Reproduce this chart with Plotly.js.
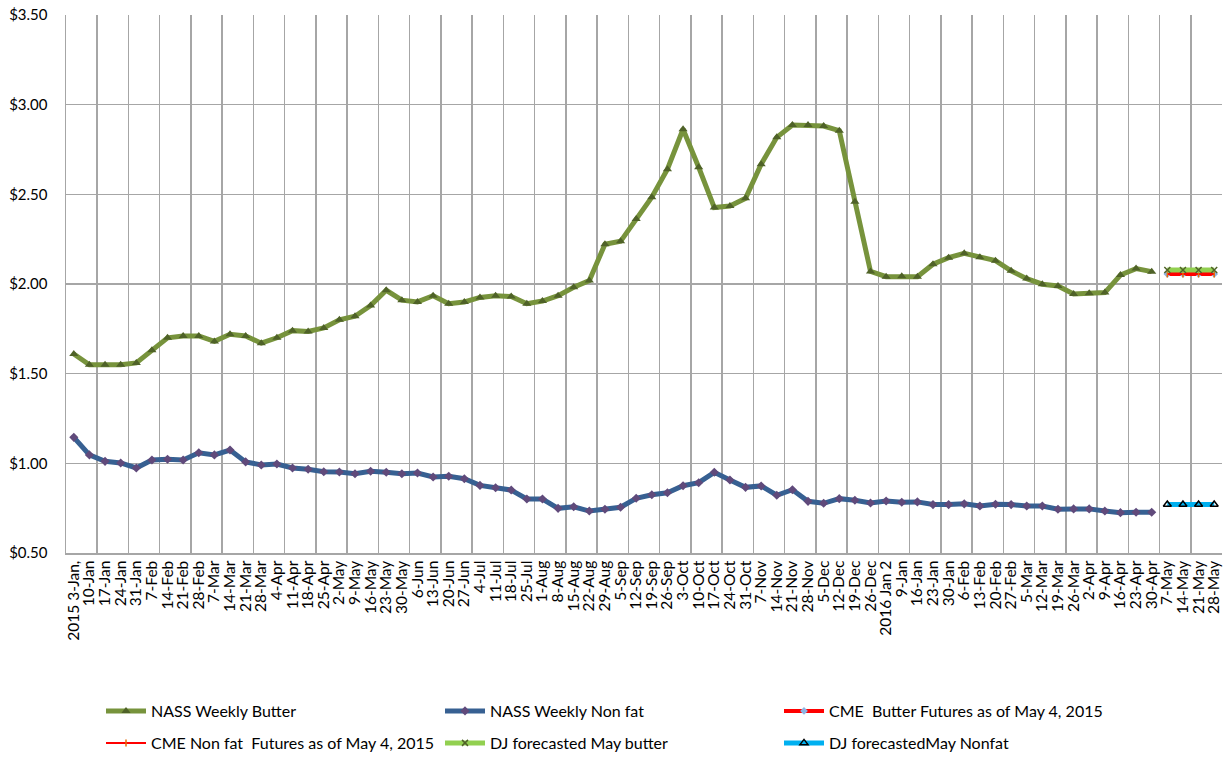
<!DOCTYPE html>
<html>
<head>
<meta charset="utf-8">
<script src="https://cdn.plot.ly/plotly-3.0.1.min.js"></script>
<style>html,body{margin:0;padding:0;background:#fff;}#chart{width:1225px;height:760px;}</style>
</head>
<body>
<div id="chart"></div>
<script>
const categories = ["2015 3-Jan,","10-Jan","17-Jan","24-Jan","31-Jan","7-Feb","14-Feb","21-Feb","28-Feb","7-Mar","14-Mar","21-Mar","28-Mar","4-Apr","11-Apr","18-Apr","25-Apr","2-May","9-May","16-May","23-May","30-May","6-Jun","13-Jun","20-Jun","27-Jun","4-Jul","11-Jul","18-Jul","25-Jul","1-Aug","8-Aug","15-Aug","22-Aug","29-Aug","5-Sep","12-Sep","19-Sep","26-Sep","3-Oct","10-Oct","17-Oct","24-Oct","31-Oct","7-Nov","14-Nov","21-Nov","28-Nov","5-Dec","12-Dec","19-Dec","26-Dec","2016 Jan 2","9-Jan","16-Jan","23-Jan","30-Jan","6-Feb","13-Feb","20-Feb","27-Feb","5-Mar","12-Mar","19-Mar","26-Mar","2-Apr","9-Apr","16-Apr","23-Apr","30-Apr","7-May","14-May","21-May","28-May"];

const nassButter = [1.61,1.55,1.55,1.55,1.56,1.63,1.70,1.71,1.71,1.68,1.72,1.71,1.67,1.70,1.74,1.735,1.755,1.80,1.82,1.88,1.965,1.91,1.90,1.935,1.89,1.90,1.925,1.935,1.93,1.89,1.905,1.935,1.982,2.019,2.222,2.238,2.363,2.484,2.640,2.863,2.651,2.426,2.435,2.478,2.668,2.818,2.887,2.887,2.881,2.855,2.459,2.07,2.041,2.043,2.041,2.11,2.147,2.171,2.149,2.130,2.074,2.030,1.999,1.989,1.944,1.948,1.952,2.05,2.086,2.069,null,null,null,null];

const nassNonfat = [1.145,1.047,1.011,1.002,0.974,1.019,1.023,1.019,1.059,1.047,1.074,1.008,0.991,0.996,0.974,0.967,0.953,0.952,0.942,0.956,0.950,0.942,0.946,0.924,0.928,0.914,0.877,0.864,0.851,0.801,0.801,0.749,0.758,0.734,0.744,0.755,0.805,0.825,0.836,0.875,0.892,0.950,0.907,0.866,0.874,0.822,0.853,0.788,0.777,0.803,0.794,0.779,0.790,0.783,0.785,0.770,0.770,0.774,0.762,0.772,0.770,0.762,0.762,0.744,0.746,0.746,0.734,0.725,0.727,0.727,null,null,null,null];

const forecastIdx = [70,71,72,73];
const cmeButter = [2.056,2.056,2.056,2.056];
const cmeNonfat = [2.056,2.056,2.056,2.056];
const djButter = [2.078,2.078,2.078,2.078];
const djNonfat = [0.77,0.77,0.77,0.77];

const yTicks = [0.5,1.0,1.5,2.0,2.5,3.0,3.5];

const idx = categories.map((c,i)=>i);
const fx = forecastIdx;
const boundaries = [];
for (let b = -0.5; b <= categories.length - 0.5; b += 2) boundaries.push(b);

const traces = [
  {x: idx, y: nassButter, name: 'NASS Weekly Butter', mode: 'lines+markers', legend: 'legend',
   line: {color: '#77933C', width: 5}, marker: {symbol: 'triangle-up', size: 8, color: '#4F6228'}},
  {x: idx, y: nassNonfat, name: 'NASS Weekly Non fat', mode: 'lines+markers', legend: 'legend',
   line: {color: '#376092', width: 5}, marker: {symbol: 'diamond', size: 7, color: '#604A7B'}},
  {x: fx, y: cmeButter, name: 'CME  Butter Futures as of May 4, 2015', mode: 'lines+markers', legend: 'legend',
   line: {color: '#FF0000', width: 4}, marker: {symbol: 'diamond', size: 6, color: '#8EB4E3'}},
  {x: fx, y: cmeNonfat, name: 'CME Non fat  Futures as of May 4, 2015', mode: 'lines+markers', legend: 'legend2',
   line: {color: '#FF0000', width: 2}, marker: {symbol: 'line-ns-open', size: 5, color: '#E46C0A', line: {width: 1.5, color: '#E46C0A'}}},
  {x: fx, y: djButter, name: 'DJ forecasted May butter', mode: 'lines+markers', legend: 'legend2',
   line: {color: '#92D050', width: 5}, marker: {symbol: 'x-thin-open', size: 6, color: '#4F6228', line: {width: 1.5, color: '#4F6228'}}},
  {x: fx, y: djNonfat, name: 'DJ forecastedMay Nonfat', mode: 'lines+markers', legend: 'legend2',
   line: {color: '#00B0F0', width: 5}, marker: {symbol: 'triangle-up-open', size: 7, color: '#000000', line: {width: 1.5, color: '#000000'}}}
];

const legendCommon = {orientation: 'h', xref: 'container', yref: 'container',
  xanchor: 'left', yanchor: 'middle', entrywidth: 284, entrywidthmode: 'pixels',
  font: {size: 16, family: 'Lato, "Open Sans", sans-serif', color: '#000000'}, itemwidth: 40,
  bgcolor: 'rgba(0,0,0,0)'};

const layout = {
  width: 1225, height: 760,
  margin: {l: 66, r: 3, t: 15, b: 207},
  paper_bgcolor: '#ffffff', plot_bgcolor: '#ffffff',
  font: {family: 'Lato, "Open Sans", sans-serif', color: '#000000', size: 13},
  showlegend: true,
  legend: Object.assign({}, legendCommon, {x: 101/1225, y: (760-711)/760}),
  legend2: Object.assign({}, legendCommon, {x: 101/1225, y: (760-743)/760}),
  xaxis: {
    range: [-0.5, categories.length - 0.5],
    tickmode: 'array', tickvals: idx, ticktext: categories,
    tickangle: -90, tickfont: {size: 15.5},
    showgrid: false, zeroline: false, ticks: '',
    showline: true, linecolor: '#A6A6A6', linewidth: 1.5,
    minor: {tickmode: 'array', tickvals: boundaries, showgrid: true, gridcolor: '#A6A6A6', gridwidth: 1.5, ticks: ''},
    fixedrange: true
  },
  yaxis: {
    range: [0.5, 3.5], tickmode: 'array', tickvals: yTicks,
    tickformat: '$.2f', tickfont: {size: 15},
    showgrid: true, gridcolor: '#A6A6A6', gridwidth: 1.5, zeroline: false,
    showline: true, linecolor: '#A6A6A6', linewidth: 1.5, ticks: '', ticklabelstandoff: 14,
    fixedrange: true
  }
};

Plotly.newPlot('chart', traces, layout, {displayModeBar: false, staticPlot: true});
</script>
</body>
</html>
